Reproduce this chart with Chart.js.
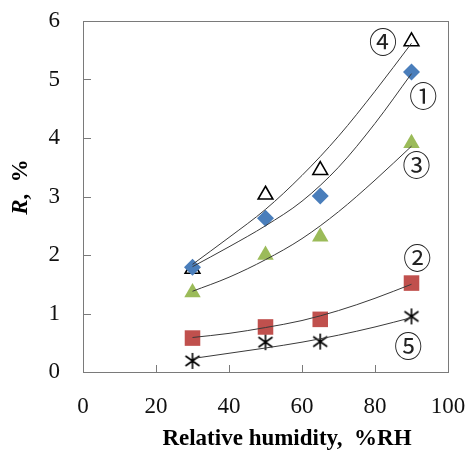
<!DOCTYPE html>
<html>
<head>
<meta charset="utf-8">
<script src="https://cdn.jsdelivr.net/npm/chart.js@4/dist/chart.umd.min.js"></script>
<style>
  html, body { margin: 0; padding: 0; background: #fff; }
  #wrap { width: 469px; height: 452px; }
</style>
</head>
<body>
<div id="wrap"><canvas id="myChart" width="469" height="452"></canvas></div>
<script>
'use strict'

// 測定点 (相対湿度 %RH)
const humidity = [30, 50, 65, 90];
const r1 = [1.79, 2.63, 3.01, 5.13];
const r2 = [0.58, 0.77, 0.90, 1.52];
const r3 = [1.36, 2.00, 2.31, 3.91];
const r4 = [1.76, 3.03, 3.45, 5.65];
const r5 = [0.19, 0.51, 0.52, 0.95];

// 近似曲線
const trendX = [30, 40, 50, 60, 70, 80, 90];
const trend1 = [1.80, 2.14, 2.50, 2.92, 3.50, 4.25, 5.10];
const trend2 = [0.59, 0.66, 0.76, 0.88, 1.05, 1.26, 1.50];
const trend3 = [1.38, 1.62, 1.92, 2.28, 2.74, 3.28, 3.86];
const trend4 = [1.84, 2.30, 2.78, 3.36, 4.03, 4.80, 5.62];
const trend5 = [0.23, 0.32, 0.41, 0.51, 0.63, 0.77, 0.93];

const xTicks = [0, 20, 40, 60, 80, 100];
const yTicks = [0, 1, 2, 3, 4, 5, 6];
const curveLabels = ['①', '②', '③', '④', '⑤'];

const serif = '"Liberation Serif", "Times New Roman", serif';

function toPoints(xs, ys) {
    return xs.map((x, i) => ({ x: x, y: ys[i] }));
}

// アスタリスク型マーカー
function makeAsterisk() {
    const c = document.createElement('canvas');
    c.width = 18; c.height = 18;
    const g = c.getContext('2d');
    g.strokeStyle = '#000';
    g.lineWidth = 1.6;
    g.beginPath();
    g.moveTo(9, 1); g.lineTo(9, 17);
    g.moveTo(2, 4); g.lineTo(16, 14);
    g.moveTo(16, 4); g.lineTo(2, 14);
    g.stroke();
    return c;
}

function trendSet(ys) {
    return {
        type: 'line',
        data: toPoints(trendX, ys),
        borderColor: '#3a3a3a',
        borderWidth: 1,
        pointRadius: 0,
        cubicInterpolationMode: 'monotone',
        fill: false,
        order: 0
    };
}

function markerSet(ys, style, radius, bg, border, bw) {
    return {
        type: 'scatter',
        data: toPoints(humidity, ys),
        pointStyle: style,
        pointRadius: radius,
        backgroundColor: bg,
        borderColor: border,
        borderWidth: bw,
        order: 1
    };
}

function noPad(s) {
    s.paddingLeft = 0; s.paddingRight = 0;
    s.paddingTop = 0; s.paddingBottom = 0;
}

// 枠・内向き目盛・軸タイトル・曲線番号
const decorPlugin = {
    id: 'decor',
    afterDatasetsDraw(chart) {
        const c = chart.ctx;
        const a = chart.chartArea;
        const xs = chart.scales.x;
        const ys = chart.scales.y;
        c.save();
        c.strokeStyle = '#7a7a7a';
        c.lineWidth = 1;
        c.strokeRect(a.left + 0.5, a.top + 0.5, a.right - a.left, a.bottom - a.top);
        c.beginPath();
        xTicks.forEach(v => {
            const px = Math.round(xs.getPixelForValue(v)) + 0.5;
            c.moveTo(px, a.bottom); c.lineTo(px, a.bottom - 7);
        });
        yTicks.forEach(v => {
            const py = Math.round(ys.getPixelForValue(v)) + 0.5;
            c.moveTo(a.left, py); c.lineTo(a.left + 8, py);
        });
        c.stroke();

        // 曲線番号
        const anchors = [[93.2, 4.72], [91.6, 1.95], [91.4, 3.53], [82.2, 5.64], [89.1, 0.44]];
        c.fillStyle = '#222';
        c.font = '28px "Noto Sans CJK JP", ' + serif;
        c.textAlign = 'center';
        c.textBaseline = 'middle';
        curveLabels.forEach((t, i) => {
            c.fillText(t, xs.getPixelForValue(anchors[i][0]), ys.getPixelForValue(anchors[i][1]));
        });

        // X軸タイトル
        c.fillStyle = '#000';
        c.font = 'bold 23px ' + serif;
        c.textAlign = 'center';
        c.textBaseline = 'middle';
        c.fillText('Relative humidity,  %RH', 287, 439);

        // Y軸タイトル
        c.translate(21, 187);
        c.rotate(-Math.PI / 2);
        c.textAlign = 'left';
        const p1 = 'R';
        const p2 = ',  %';
        c.font = 'italic bold 23px ' + serif;
        const w1 = c.measureText(p1).width;
        c.font = 'bold 23px ' + serif;
        const w2 = c.measureText(p2).width;
        const start = -(w1 + w2) / 2;
        c.font = 'italic bold 23px ' + serif;
        c.fillText(p1, start, 0);
        c.font = 'bold 23px ' + serif;
        c.fillText(p2, start + w1, 0);
        c.restore();
    }
};

const ctx = document.getElementById('myChart');

new Chart(ctx, {
    data: {
        datasets: [
            trendSet(trend1),
            trendSet(trend2),
            trendSet(trend3),
            trendSet(trend4),
            trendSet(trend5),
            markerSet(r1, 'rectRot', 8.5, '#4a7ebb', '#4a7ebb', 0),
            markerSet(r2, 'rect', 11, '#c0504d', '#c0504d', 0),
            markerSet(r3, 'triangle', 9.5, '#9bbb59', '#9bbb59', 0),
            markerSet(r4, 'triangle', 8.5, 'rgba(0,0,0,0)', '#000', 1.6),
            markerSet(r5, makeAsterisk(), 9, '#000', '#000', 0)
        ]
    },
    options: {
        responsive: false,
        animation: false,
        events: [],
        layout: { padding: { left: 0, top: 21, right: 21, bottom: 0 } },
        plugins: {
            legend: { display: false },
            tooltip: { enabled: false }
        },
        scales: {
            x: {
                type: 'linear',
                min: 0,
                max: 100,
                afterFit: s => { s.height = 80; noPad(s); },
                afterBuildTicks: s => { s.ticks = xTicks.map(v => ({ value: v })); },
                grid: { display: false, drawTicks: false },
                border: { display: false },
                ticks: { color: '#111', padding: 21, font: { family: serif, size: 23 } }
            },
            y: {
                type: 'linear',
                min: 0,
                max: 6,
                afterFit: s => { s.width = 83; noPad(s); },
                afterBuildTicks: s => { s.ticks = yTicks.map(v => ({ value: v })); },
                grid: { display: false, drawTicks: false },
                border: { display: false },
                ticks: { color: '#111', padding: 23, font: { family: serif, size: 23 } }
            }
        }
    },
    plugins: [decorPlugin]
});
</script>
</body>
</html>
